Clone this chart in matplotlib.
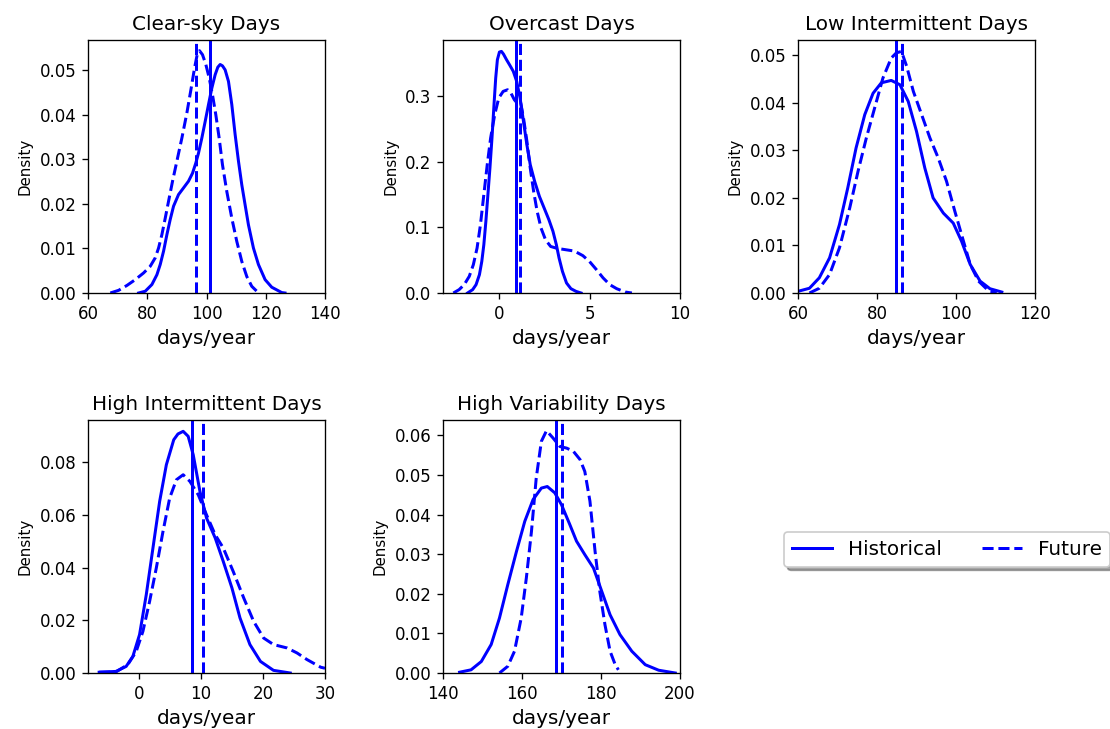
import matplotlib
matplotlib.use("Agg")
import matplotlib.pyplot as plt
from matplotlib.lines import Line2D

titles = ["Clear-sky Days", "Overcast Days", "Low Intermittent Days",
          "High Intermittent Days", "High Variability Days"]
xlims = [(60, 140), (-3.1, 10), (60, 120), (-8.2, 30), (140, 200)]
ylims = [(0, 0.0568), (0, 0.386), (0, 0.0532), (0, 0.0961), (0, 0.0639)]
xticks = [[60, 80, 100, 120, 140], [0, 5, 10], [60, 80, 100, 120],
          [0, 10, 20, 30], [140, 160, 180, 200]]

# Historical (solid) density curves
hist_x = [
    [77.08, 79.33, 81.57, 83.26, 84.38, 85.51, 86.63, 87.75, 88.88, 90.56, 92.25, 93.93,
     95.28, 96.40, 97.30, 98.43, 99.55, 100.67, 101.80, 102.92, 103.82, 104.61, 105.39,
     106.29, 107.42, 108.54, 109.66, 110.79, 111.91, 113.03, 114.16, 115.84, 117.53,
     119.78, 122.02, 125.39, 126.5],
    [-1.742, -1.461, -1.273, -1.086, -0.955, -0.843, -0.730, -0.618, -0.506, -0.393,
     -0.281, -0.187, -0.094, 0.019, 0.131, 0.243, 0.412, 0.599, 0.787, 0.974, 1.161,
     1.348, 1.536, 1.723, 1.966, 2.228, 2.491, 2.753, 2.978, 3.165, 3.315, 3.502, 3.727,
     3.970, 4.251, 4.532],
    [60.0, 62.9, 65.4, 68.0, 70.5, 72.6, 74.7, 76.9, 79.0, 81.1, 83.6, 85.8, 87.9, 90.0,
     92.1, 94.2, 96.8, 99.3, 101.4, 103.6, 106.1, 108.6, 111.6],
    [-6.4, -3.7, -2.05, -0.97, 0.11, 1.19, 2.27, 3.35, 4.43, 5.62, 6.3, 7.14, 7.95, 8.76,
     9.84, 10.9, 12.3, 13.6, 15.0, 16.3, 17.9, 19.6, 21.7, 24.4],
    [144.2, 147.1, 149.7, 152.2, 154.3, 156.4, 158.6, 160.7, 162.8, 164.9, 166.4, 168.3,
     170.0, 172.1, 173.8, 175.9, 178.1, 180.2, 182.3, 184.8, 187.8, 191.2, 194.6, 198.8],
]
hist_y = [
    [0.0, 0.0004, 0.0019, 0.0041, 0.0064, 0.0094, 0.0131, 0.0165, 0.0195, 0.0221, 0.0236,
     0.0251, 0.0269, 0.0292, 0.0314, 0.0348, 0.0385, 0.0423, 0.0460, 0.0490, 0.0507,
     0.0513, 0.0510, 0.0501, 0.0475, 0.0423, 0.0356, 0.0296, 0.0243, 0.0198, 0.0153,
     0.0101, 0.0064, 0.0030, 0.0013, 0.0001, 0.0],
    [0.0, 0.0051, 0.0127, 0.0280, 0.0483, 0.0737, 0.1093, 0.1500, 0.1907, 0.2364, 0.2872,
     0.3279, 0.3559, 0.3676, 0.3686, 0.3645, 0.3559, 0.3472, 0.3381, 0.3228, 0.2974,
     0.2618, 0.2262, 0.1957, 0.1703, 0.1474, 0.1296, 0.1118, 0.0941, 0.0737, 0.0534,
     0.0330, 0.0153, 0.0066, 0.0025, 0.0],
    [0.00035, 0.001, 0.0032, 0.0074, 0.0144, 0.0221, 0.0305, 0.0375, 0.042, 0.0442, 0.0447,
     0.0438, 0.0403, 0.034, 0.0263, 0.020, 0.0168, 0.0147, 0.0109, 0.006, 0.0025, 0.0009,
     0.0002],
    [0.0003, 0.0006, 0.0025, 0.0063, 0.0146, 0.0297, 0.0475, 0.0652, 0.0791, 0.0886, 0.0908,
     0.0918, 0.0899, 0.0829, 0.069, 0.0589, 0.0513, 0.0424, 0.0323, 0.0209, 0.0108, 0.0044,
     0.001, 0.0],
    [0.0002, 0.0008, 0.0029, 0.0072, 0.0139, 0.0223, 0.0307, 0.0383, 0.0438, 0.0467, 0.0471,
     0.0455, 0.0425, 0.0375, 0.0333, 0.0299, 0.0265, 0.0206, 0.0147, 0.0097, 0.0055, 0.0021,
     0.0007, 0.0],
]

# Future (dashed) density curves
fut_x = [
    [67.53, 70.34, 73.15, 75.96, 78.76, 81.01, 82.70, 83.82, 84.94, 86.07, 87.19, 88.54,
     90.00, 91.69, 93.37, 94.83, 95.96, 96.85, 97.64, 98.65, 99.78, 100.90, 102.02,
     103.15, 104.27, 105.39, 106.85, 108.54, 110.22, 111.91, 113.60, 115.28, 116.97],
    [-2.528, -2.210, -1.929, -1.648, -1.423, -1.217, -1.030, -0.843, -0.655, -0.468,
     -0.243, -0.019, 0.225, 0.468, 0.655, 0.843, 0.99, 1.18, 1.35, 1.54, 1.72, 1.91, 2.10,
     2.32, 2.57, 2.85, 3.22, 3.69, 4.16, 4.63, 5.0, 5.37, 5.75, 6.12, 6.50, 6.97, 7.34],
    [62.9, 65.4, 68.0, 70.5, 73.1, 75.2, 77.3, 79.4, 81.5, 83.6, 84.9, 86.2, 87.5, 89.2,
     91.3, 93.4, 95.5, 97.6, 99.7, 101.4, 103.6, 105.7, 108.2, 110.3],
    [-6.4, -3.7, -1.78, -0.43, 0.65, 1.73, 2.81, 3.89, 4.97, 6.05, 7.14, 8.22, 9.57, 10.9,
     12.3, 13.6, 15.2, 16.9, 18.5, 20.1, 21.7, 23.9, 25.5, 27.1, 29.3, 30.0],
    [154.3, 156.4, 158.1, 159.8, 161.1, 162.4, 163.6, 164.9, 166.2, 167.9, 169.6, 171.3,
     173.0, 174.7, 175.9, 177.2, 178.5, 179.7, 181.0, 182.3, 183.6, 184.4],
]
fut_y = [
    [0.0, 0.0006, 0.0017, 0.0030, 0.0045, 0.0060, 0.0079, 0.0101, 0.0131, 0.0168, 0.0206,
     0.0251, 0.0296, 0.0348, 0.0404, 0.0460, 0.0505, 0.0535, 0.0544, 0.0535, 0.0513,
     0.0483, 0.0445, 0.0400, 0.0348, 0.0288, 0.0228, 0.0168, 0.0116, 0.0071, 0.0037,
     0.0015, 0.0004],
    [0.0, 0.0051, 0.0127, 0.0254, 0.0432, 0.0686, 0.1042, 0.1500, 0.1957, 0.2364, 0.2720,
     0.2974, 0.3076, 0.3101, 0.3050, 0.2949, 0.290, 0.292, 0.267, 0.231, 0.191, 0.155,
     0.125, 0.099, 0.081, 0.071, 0.068, 0.066, 0.064, 0.057, 0.048, 0.036, 0.023, 0.0127,
     0.0066, 0.0015, 0.0],
    [0.0, 0.001, 0.0039, 0.0095, 0.0179, 0.0256, 0.0326, 0.0389, 0.0452, 0.0494, 0.0505,
     0.0508, 0.0477, 0.0424, 0.0375, 0.0326, 0.0284, 0.0235, 0.0172, 0.0123, 0.006, 0.0025,
     0.0005, 0.0],
    [0.0003, 0.0004, 0.0032, 0.0082, 0.0158, 0.0272, 0.0399, 0.0538, 0.0665, 0.0734, 0.0753,
     0.0728, 0.0677, 0.0601, 0.0525, 0.0475, 0.0386, 0.0285, 0.0196, 0.0133, 0.0108, 0.0095,
     0.0076, 0.0051, 0.0022, 0.0018],
    [0.0, 0.0017, 0.0055, 0.0139, 0.024, 0.0358, 0.0492, 0.0585, 0.0612, 0.0593, 0.0572,
     0.0568, 0.056, 0.0539, 0.0509, 0.0434, 0.0307, 0.0206, 0.0122, 0.0055, 0.0021, 0.0008],
]

hist_mean = [101.3, 0.92, 84.9, 8.54, 168.7]
fut_mean = [96.5, 1.18, 86.4, 10.38, 170.1]

W, H = 1110, 729
fig = plt.figure(figsize=(W / 120, H / 120), dpi=120)

lefts = [88, 443, 798, 88, 443]
tops = [40, 40, 40, 420, 420]
aw, ah = 237, 253
LW = 1.8

for i in range(5):
    ax = fig.add_axes([lefts[i] / W, 1 - (tops[i] + ah) / H, aw / W, ah / H])
    ax.plot(hist_x[i], hist_y[i], color="blue", lw=LW, ls="-")
    ax.plot(fut_x[i], fut_y[i], color="blue", lw=LW, ls="--")
    ax.axvline(hist_mean[i], color="blue", lw=LW, ls="-")
    ax.axvline(fut_mean[i], color="blue", lw=LW, ls="--")
    ax.set_xlim(*xlims[i])
    ax.set_ylim(*ylims[i])
    ax.set_xticks(xticks[i])
    ax.set_title(titles[i], fontsize=12)
    ax.set_xlabel("days/year", fontsize=12)
    ax.set_ylabel("Density", fontsize=9)
    ax.tick_params(labelsize=10)

handles = [Line2D([], [], color="blue", lw=LW, ls="-"),
           Line2D([], [], color="blue", lw=LW, ls="--")]
fig.legend(handles, ["Historical", "Future"], loc="center left",
           bbox_to_anchor=(784 / W, 1 - 549.5 / H), ncol=2, fontsize=12,
           shadow=True, fancybox=True, borderaxespad=0)

fig.savefig("out.png", dpi=120)
